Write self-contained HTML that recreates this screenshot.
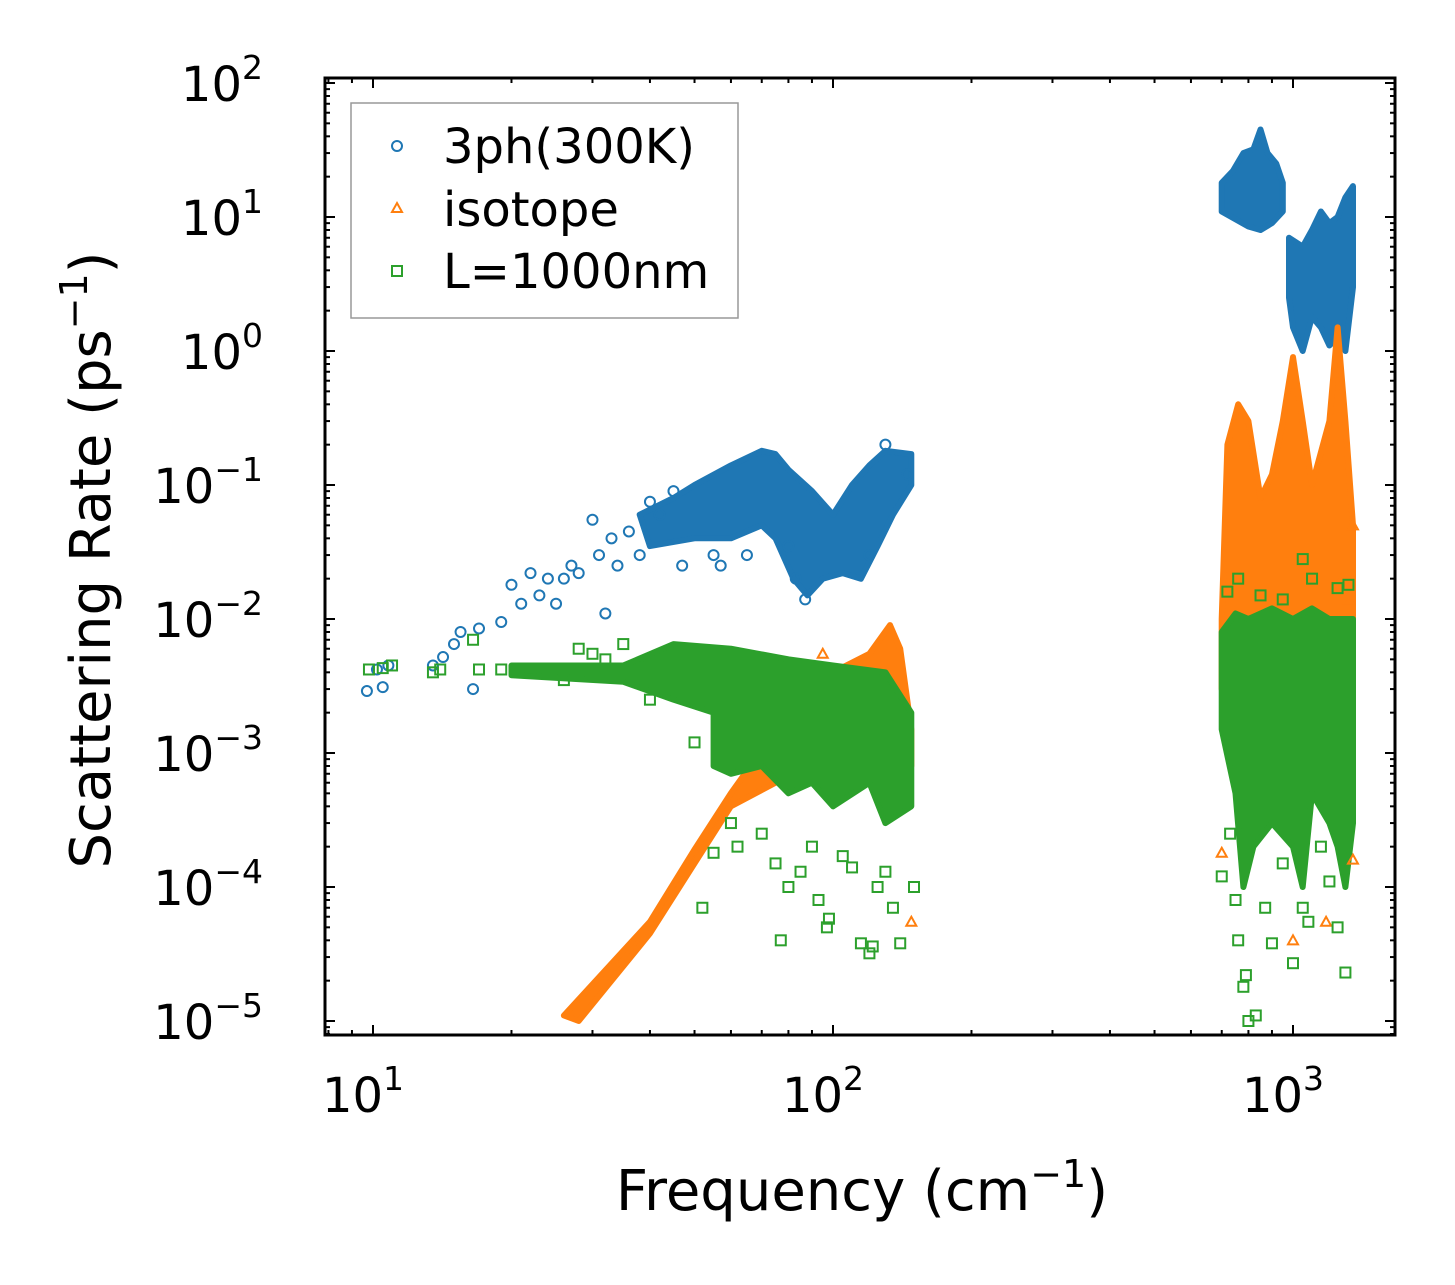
<!DOCTYPE html>
<html><head><meta charset="utf-8">
<style>
html,body{margin:0;padding:0;background:#fff;}
svg{display:block;font-family:"DejaVu Sans","Liberation Sans",sans-serif;}
</style></head>
<body>
<svg id="chart" width="1455" height="1285" viewBox="0 0 1455 1285">
<defs><clipPath id="clip"><rect x="325" y="78" width="1070" height="957"/></clipPath></defs>
<g id="bands" clip-path="url(#clip)"></g>
<g id="pts" clip-path="url(#clip)"></g>
<g id="ticks"></g>
<rect x="325" y="78" width="1070" height="957" fill="none" stroke="#000" stroke-width="3"/>
<text x="862" y="1210" font-size="56" text-anchor="middle">Frequency (cm<tspan dy="-23" font-size="38">−1</tspan><tspan dy="23">)</tspan></text>
<text transform="translate(110,560) rotate(-90)" font-size="56" text-anchor="middle">Scattering Rate (ps<tspan dy="-23" font-size="38">−1</tspan><tspan dy="23">)</tspan></text>
<g>
<rect x="351" y="103" width="387" height="215" fill="#fff" stroke="#999" stroke-width="1.5"/>
<g><circle cx="397" cy="146" r="5" fill="none" stroke="#1f77b4" stroke-width="2"/><text x="443" y="163" font-size="48">3ph(300K)</text></g>
<g><polygon points="397,203 402,212 392,212" fill="none" stroke="#ff7f0e" stroke-width="2"/><text x="443" y="226" font-size="48">isotope</text></g>
<g><rect x="392" y="266" width="10" height="10" fill="none" stroke="#2ca02c" stroke-width="2"/><text x="443" y="288" font-size="48">L=1000nm</text></g>
</g>
</svg>
<script>
// ---- data ----
const blueBandLow = [[38,0.06],[45,0.08],[50,0.1],[60,0.14],[70,0.18],[75,0.17],[80,0.13],[90,0.09],[100,0.06],[110,0.1],[120,0.14],[130,0.18],[148,0.17],[148,0.1],[135,0.06],[125,0.035],[115,0.02],[105,0.022],[95,0.02],[88,0.015],[82,0.02],[75,0.04],[70,0.05],[60,0.04],[50,0.04],[40,0.035]];
const blueBandHigh1 = [[700,18],[740,22],[780,30],[820,32],[850,45],[880,30],[920,25],[950,18],[950,11],[900,9],[850,8],[800,8.5],[700,11]];
const blueBandHigh2 = [[980,7],[1050,6],[1100,8],[1150,11],[1200,9],[1250,10],[1300,14],[1350,17],[1350,3],[1300,1],[1260,1.3],[1200,1.1],[1150,1.5],[1100,1.8],[1050,1],[1000,1.5],[980,2.5]];
const orangeBandLow = [[26,1.1e-5],[40,5.5e-5],[50,1.9e-4],[60,5e-4],[80,2e-3],[100,4e-3],[120,5.5e-3],[133,9e-3],[140,6e-3],[148,1.5e-3],[148,8e-4],[130,1e-3],[100,1e-3],[75,6e-4],[60,4e-4],[50,1.5e-4],[40,4.5e-5],[28,1e-5]];
const orangeBandHigh = [[700,0.01],[720,0.2],[760,0.4],[800,0.3],[850,0.08],[900,0.12],[950,0.3],[1000,0.9],[1050,0.3],[1100,0.1],[1200,0.3],[1250,1.5],[1300,0.3],[1350,0.05],[1350,0.003],[1200,0.003],[1000,0.003],[700,0.003]];
const greenBandLow = [[20,0.0045],[35,0.0045],[45,0.0065],[60,0.006],[80,0.005],[100,0.0045],[130,0.004],[148,0.002],[148,0.0004],[130,0.0003],[120,0.0006],[100,0.0004],[90,0.0006],[80,0.0005],[70,0.0008],[60,0.0007],[55,0.0008],[55,0.002],[45,0.0025],[35,0.0034],[20,0.0038]];
const greenBandHigh = [[700,0.008],[750,0.011],[800,0.01],[900,0.012],[1000,0.01],[1100,0.012],[1200,0.01],[1350,0.01],[1350,0.0003],[1300,0.0001],[1250,0.0002],[1200,0.0003],[1100,0.0005],[1050,0.0001],[1000,0.0002],[900,0.0003],[820,0.0002],[780,0.0001],[750,0.0005],[700,0.0015]];
const bluePoints = [[9.7,0.0029],[10.2,0.0042],[10.5,0.0031],[10.8,0.0045],[13.5,0.0045],[14.2,0.0052],[15,0.0065],[15.5,0.008],[16.5,0.003],[17,0.0085],[19,0.0095],[20,0.018],[21,0.013],[22,0.022],[23,0.015],[24,0.02],[25,0.013],[26,0.02],[27,0.025],[28,0.022],[30,0.055],[31,0.03],[32,0.011],[33,0.04],[34,0.025],[36,0.045],[38,0.03],[40,0.075],[42,0.06],[45,0.09],[47,0.025],[55,0.03],[57,0.025],[65,0.03],[80,0.035],[83,0.02],[87,0.014],[130,0.2],[120,0.03],[145,0.12]];
const orangePoints = [[95,0.0055],[148,5.5e-5],[700,1.8e-4],[1000,4e-5],[1180,5.5e-5],[1350,1.6e-4],[1320,0.014],[1280,0.02],[1350,0.05]];
const greenPoints = [[9.8,0.0042],[10.5,0.0043],[11,0.0045],[13.5,0.004],[14,0.0042],[16.5,0.007],[17,0.0042],[19,0.0042],[22,0.0042],[24,0.004],[26,0.0035],[28,0.006],[30,0.0055],[32,0.005],[35,0.0065],[38,0.0045],[40,0.0025],[50,0.0012],[52,7e-5],[55,1.8e-4],[60,3e-4],[62,2e-4],[70,2.5e-4],[75,1.5e-4],[77,4e-5],[80,1e-4],[85,1.3e-4],[90,2e-4],[93,8e-5],[97,5e-5],[98,5.8e-5],[105,1.7e-4],[110,1.4e-4],[115,3.8e-5],[120,3.2e-5],[122,3.6e-5],[125,1e-4],[130,1.3e-4],[135,7e-5],[140,3.8e-5],[150,1e-4],[700,1.2e-4],[730,2.5e-4],[750,8e-5],[760,4e-5],[780,1.8e-5],[790,2.2e-5],[800,1e-5],[830,1.1e-5],[870,7e-5],[900,3.8e-5],[950,1.5e-4],[1000,2.7e-5],[1050,7e-5],[1080,5.5e-5],[1150,2e-4],[1200,1.1e-4],[1250,5e-5],[1300,2.3e-5],[1330,6.5e-4],[720,0.016],[760,0.02],[850,0.015],[950,0.014],[1050,0.028],[1100,0.02],[1250,0.017],[1320,0.018]];
const xTickVals = [10,100,1000];
const xTickLabels = ["1","2","3"];
const yTickVals = [1e2,1e1,1,1e-1,1e-2,1e-3,1e-4,1e-5];
const yTickLabels = ["2","1","0","−1","−2","−3","−4","−5"];

// ---- axes ----
const X0=373, XD=460, Y0=351, YD=134;
const xs = v => X0 + XD*Math.log10(v/10);
const ys = v => Y0 - YD*Math.log10(v);
const NS="http://www.w3.org/2000/svg";
const mk=(t,a,p)=>{const e=document.createElementNS(NS,t);for(const k in a)e.setAttribute(k,a[k]);p.appendChild(e);return e;};
const bands=document.getElementById('bands'), pts=document.getElementById('pts'), tk=document.getElementById('ticks');
const C={b:'#1f77b4',o:'#ff7f0e',g:'#2ca02c'};
function band(arr,col,name){
  const p=mk('polygon',{points:arr.map(d=>xs(d[0]).toFixed(1)+','+ys(d[1]).toFixed(1)).join(' '),fill:col,stroke:col,'stroke-width':6,'stroke-linejoin':'round'},bands);
  
  
}
band(blueBandLow,C.b,'3ph-band-low');band(blueBandHigh1,C.b,'3ph-band-high-1');band(blueBandHigh2,C.b,'3ph-band-high-2');
band(orangeBandLow,C.o,'isotope-band-low');band(orangeBandHigh,C.o,'isotope-band-high');
band(greenBandLow,C.g,'boundary-band-low');band(greenBandHigh,C.g,'boundary-band-high');
bluePoints.forEach(d=>{const e=mk('circle',{cx:xs(d[0]),cy:ys(d[1]),r:5,fill:'none',stroke:C.b,'stroke-width':2},pts);
  
  });
orangePoints.forEach(d=>{const x=xs(d[0]),y=ys(d[1]);const e=mk('polygon',{points:`${x},${y-5} ${x+5},${y+4} ${x-5},${y+4}`,fill:'none',stroke:C.o,'stroke-width':2},pts);
  
  });
greenPoints.forEach(d=>{const e=mk('rect',{x:xs(d[0])-5,y:ys(d[1])-5,width:10,height:10,fill:'none',stroke:C.g,'stroke-width':2},pts);
  
  });
// ticks
const L=325,R=1395,T=78,B=1035;
for(let e=0;e<=3;e++)for(let m=1;m<10;m++){const v=m*Math.pow(10,e);const x=xs(v);if(x<L||x>R)continue;const len=m==1?10:5;
  mk('line',{x1:x,x2:x,y1:B,y2:B-len,stroke:'#000','stroke-width':2},tk);mk('line',{x1:x,x2:x,y1:T,y2:T+len,stroke:'#000','stroke-width':2},tk);}
for(let e=-6;e<=2;e++)for(let m=1;m<10;m++){const v=m*Math.pow(10,e);const y=ys(v);if(y<T||y>B)continue;const len=m==1?10:5;
  mk('line',{x1:L,x2:L+len,y1:y,y2:y,stroke:'#000','stroke-width':2},tk);mk('line',{x1:R,x2:R-len,y1:y,y2:y,stroke:'#000','stroke-width':2},tk);}
xTickVals.forEach((v,i)=>{const t=mk('text',{x:xs(v)-10,y:1112,'font-size':48,'text-anchor':'middle'},tk);t.textContent='10';
  
  
  const s=mk('tspan',{dy:-22,'font-size':33},t);s.textContent=xTickLabels[i];});
yTickVals.forEach((v,i)=>{const t=mk('text',{x:263,y:ys(v)+18,'font-size':48,'text-anchor':'end'},tk);t.textContent='10';
  
  
  const s=mk('tspan',{dy:-22,'font-size':33},t);s.textContent=yTickLabels[i];});
</script>
</body></html>
